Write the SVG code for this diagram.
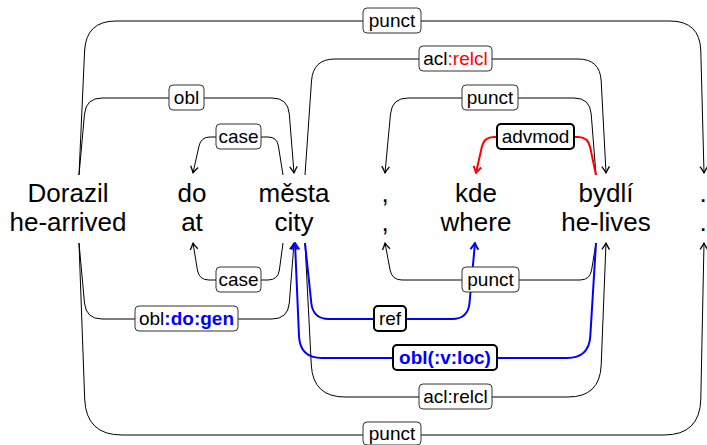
<svg xmlns="http://www.w3.org/2000/svg" width="707" height="445" viewBox="0 0 707 445">
<style>
.w{font-family:"Liberation Sans",Arial,sans-serif;font-size:26px;fill:#000;text-anchor:middle}
.l{font-family:"Liberation Sans",Arial,sans-serif;font-size:19px;fill:#000;text-anchor:middle}
.e{fill:none;stroke:#000;stroke-width:1}
.eb{fill:none;stroke:#0000ff;stroke-width:2}
.er{fill:none;stroke:#ff0000;stroke-width:2}
.box{fill:#fff;stroke:#333;stroke-width:1}
.tb{fill:#fff;stroke:#000;stroke-width:2}
.blue{fill:#0000ff;font-weight:bold}
.red{fill:#ff0000}
</style>
<defs>
<marker id="ak" markerUnits="userSpaceOnUse" viewBox="-8 -5 10 10" markerWidth="10" markerHeight="10" refX="0" refY="0" orient="auto">
<path d="M-6.5,-3.8 Q-2,-0.8 0,0 Q-2,0.8 -6.5,3.8" fill="none" stroke="#000" stroke-width="1.3" stroke-linejoin="round"/>
</marker>
<marker id="ab" markerUnits="userSpaceOnUse" viewBox="-8 -5 10 10" markerWidth="10" markerHeight="10" refX="0" refY="0" orient="auto">
<path d="M-6.5,-4 Q-2,-0.8 0,0 Q-2,0.8 -6.5,4" fill="none" stroke="#0000ff" stroke-width="2" stroke-linejoin="round"/>
</marker>
<marker id="ar" markerUnits="userSpaceOnUse" viewBox="-8 -5 10 10" markerWidth="10" markerHeight="10" refX="0" refY="0" orient="auto">
<path d="M-6.5,-4 Q-2,-0.8 0,0 Q-2,0.8 -6.5,4" fill="none" stroke="#ff0000" stroke-width="2" stroke-linejoin="round"/>
</marker>
</defs>

<g id="connectors">
<path class="e" marker-end="url(#ak)" d="M79,175 L84.6,51 Q86,21 116,21 H670 Q700,21 700.8,51 L704,173"/>
<path class="e" marker-end="url(#ak)" d="M79,175 L84.5,114 Q86,98 102,98 H272 Q288,98 289.3,114 L294,173"/>
<path class="e" marker-end="url(#ak)" d="M283,175 L278.4,146 Q277,137 268,137 H210 Q201,137 199,146 L193,173"/>
<path class="e" marker-end="url(#ak)" d="M305,175 L311.5,81 Q313,59 335,59 H578 Q600,59 601.2,81 L606,173"/>
<path class="e" marker-end="url(#ak)" d="M596,175 L591.2,114 Q590,98 574,98 H408 Q392,98 390.5,114 L385,173"/>
<path class="er" marker-end="url(#ar)" d="M596,175 L590.1,147 Q588,137 578,137 H494 Q484,137 481.8,147 L476,173"/>
<path class="e" marker-end="url(#ak)" d="M283,243 L279.4,270 Q278,280 268,280 H209 Q199,280 197.4,270 L193,243"/>
<path class="e" marker-end="url(#ak)" d="M79,243 L84.5,303 Q86,319 102,319 H272 Q288,319 289.3,303 L294,243"/>
<path class="e" marker-end="url(#ak)" d="M79,243 L84.7,399 Q86,435 122,435 H664 Q700,435 700.8,399 L704,243"/>
<path class="e" marker-end="url(#ak)" d="M305,243 L311.3,365 Q313,397 345,397 H568 Q600,397 601.2,365 L606,243"/>
<path class="e" marker-end="url(#ak)" d="M596,243 L591.6,270 Q590,280 580,280 H402 Q392,280 390.1,270 L385,243"/>
<path class="eb" marker-end="url(#ab)" d="M305,243 L311.3,303 Q313,319 329,319 H452 Q468,319 469.5,303 L475,243"/>
<path class="eb" marker-end="url(#ab)" d="M596,243 L590.3,336 Q589,358 567,358 H322 Q300,358 299,336 L295,243"/>

<g id="labels">
<rect class="box" x="363" y="8" width="58" height="25" rx="4"/><text class="l" x="392" y="26.5">punct</text>
<rect class="box" x="169" y="85" width="35" height="25" rx="4"/><text class="l" x="186.5" y="103.5">obl</text>
<rect class="box" x="216" y="124" width="45" height="25" rx="4"/><text class="l" x="238.5" y="142.5">case</text>
<rect class="box" x="419" y="46" width="73" height="25" rx="4"/><text class="l" x="455.5" y="64.5">acl<tspan class="red">:relcl</tspan></text>
<rect class="box" x="462" y="85" width="56" height="25" rx="4"/><text class="l" x="490" y="103.5">punct</text>
<rect class="tb" x="497" y="124" width="77" height="25" rx="4"/><text class="l" x="535.5" y="142.5">advmod</text>
<rect class="box" x="216" y="267" width="45" height="25" rx="4"/><text class="l" x="238.5" y="285.5">case</text>
<rect class="box" x="462" y="267" width="57" height="25" rx="4"/><text class="l" x="490.5" y="285.5">punct</text>
<rect class="box" x="135" y="306" width="103" height="25" rx="4"/><text class="l" x="186.5" y="324.5">obl<tspan class="blue">:do:gen</tspan></text>
<rect class="tb" x="374" y="306" width="32" height="25" rx="4"/><text class="l" x="390" y="324.5">ref</text>
<rect class="tb" x="393" y="345" width="104" height="25" rx="4"/><text class="l blue" x="445" y="363.5">obl(:v:loc)</text>
<rect class="box" x="419" y="384" width="73" height="25" rx="4"/><text class="l" x="455.5" y="402.5">acl:relcl</text>
<rect class="box" x="363" y="422" width="58" height="23" rx="4"/><text class="l" x="392" y="440">punct</text>
</g>
</g>

<g id="w1"><text class="w" x="68" y="202">Dorazil</text><text class="w" x="68" y="231">he-arrived</text></g>
<g id="w2"><text class="w" x="192" y="202">do</text><text class="w" x="192" y="231">at</text></g>
<g id="w3"><text class="w" x="294" y="202">města</text><text class="w" x="294" y="231">city</text></g>
<g id="w4"><text class="w" x="385" y="202">,</text><text class="w" x="385" y="231">,</text></g>
<g id="w5"><text class="w" x="476" y="202">kde</text><text class="w" x="476" y="231">where</text></g>
<g id="w6"><text class="w" x="606" y="202">bydlí</text><text class="w" x="606" y="231">he-lives</text></g>
<g id="w7"><text class="w" x="703" y="202">.</text><text class="w" x="703" y="231">.</text></g>
</svg>
